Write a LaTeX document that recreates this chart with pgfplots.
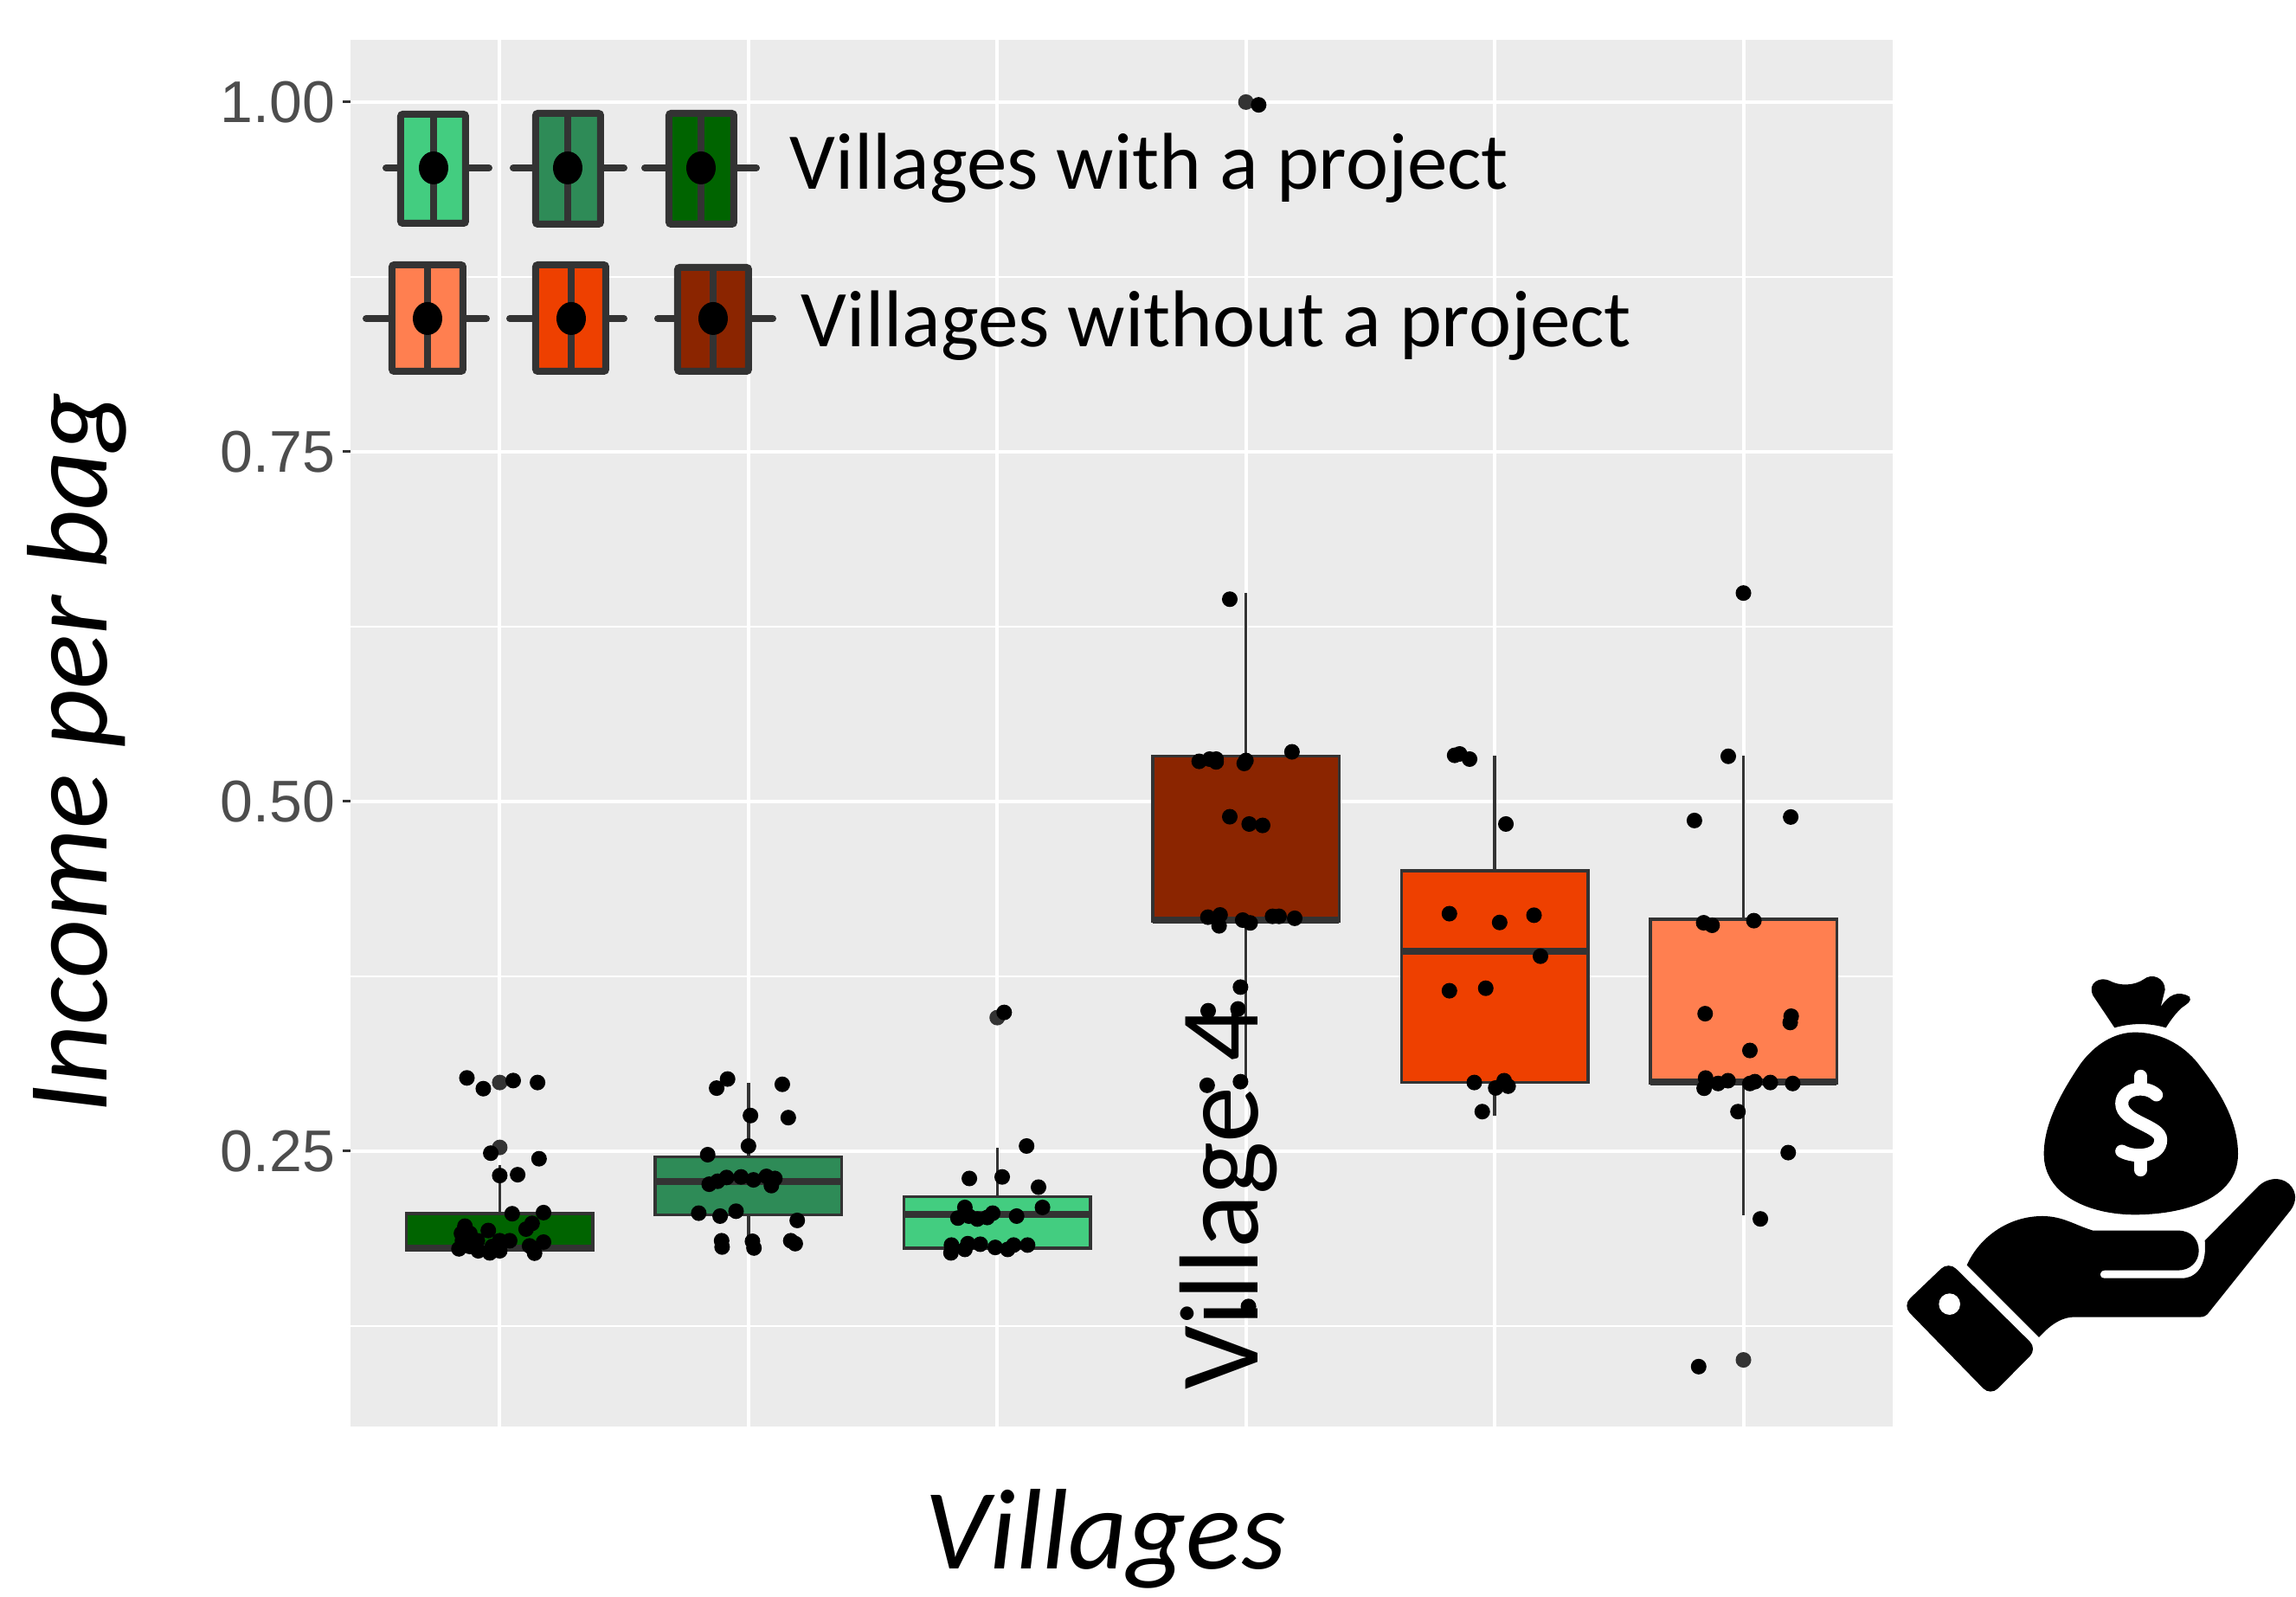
\documentclass[border=0pt]{standalone}
\usepackage{pgfplots}
\usepackage{pgfplotstable}
\usepackage{fontspec}
\pgfplotsset{compat=1.18}
\setmainfont{Carlito}
\newfontfamily\arialf{Liberation Sans}
\definecolor{panel}{HTML}{EBEBEB}
\definecolor{dk}{HTML}{333333}
\definecolor{tk}{HTML}{4D4D4D}
\definecolor{gA}{HTML}{006400}
\definecolor{gB}{HTML}{2E8B57}
\definecolor{gC}{HTML}{43CD80}
\definecolor{rA}{HTML}{8B2500}
\definecolor{rB}{HTML}{EE4000}
\definecolor{rC}{HTML}{FF7F50}
% jitter (category units) and income per bag
\pgfplotstableread{
j v
-0.132 0.3024
-0.066 0.2947
0.054 0.3005
0.152 0.2991
-0.036 0.2486
0.158 0.2446
0 0.2326
0.072 0.2332
0.05 0.2053
0.176 0.2061
0.13 0.1984
0.106 0.1943
-0.14 0.1964
-0.046 0.1933
-0.154 0.1912
-0.12 0.1912
-0.15 0.186
-0.09 0.186
0 0.186
0.04 0.186
0.12 0.1823
0.176 0.185
-0.164 0.1802
-0.086 0.1788
-0.04 0.1773
0 0.1788
0.14 0.1771
-0.12 0.1819
-0.03 0.1819
}\villageA
\pgfplotstableread{
j v
-0.084 0.3016
-0.128 0.2951
0.136 0.2978
0.008 0.2755
0.16 0.274
0 0.2537
-0.164 0.2475
-0.158 0.2264
-0.124 0.2285
-0.088 0.2312
-0.03 0.2316
0.02 0.2295
0.072 0.232
0.106 0.2305
0.092 0.2254
-0.2 0.2057
-0.114 0.2036
-0.05 0.2071
0.196 0.2005
-0.108 0.186
-0.106 0.1815
0.016 0.1856
0.022 0.1808
0.17 0.186
0.188 0.1839
}\villageB
\pgfplotstableread{
j v
0.028 0.3492
0.118 0.2537
-0.112 0.2305
0.02 0.2316
0.166 0.2243
-0.13 0.2098
0.182 0.2098
-0.018 0.2057
0.078 0.2036
-0.158 0.2022
-0.114 0.2036
-0.08 0.2015
-0.04 0.2026
-0.184 0.1829
-0.186 0.1773
-0.13 0.1798
-0.118 0.1839
-0.068 0.1835
-0.008 0.1812
0.042 0.1798
0.066 0.1829
0.122 0.1829
}\villageC
\pgfplotstableread{
j v
0.051 0.998
-0.065 0.6446
-0.188 0.5287
-0.146 0.5303
-0.12 0.5303
-0.12 0.5283
0 0.5293
-0.007 0.5272
0.185 0.5355
-0.065 0.4891
0.013 0.4839
0.067 0.4829
-0.153 0.4173
-0.104 0.4189
-0.108 0.4111
-0.013 0.4152
0.017 0.4132
0.107 0.4179
0.133 0.4179
0.196 0.4165
-0.022 0.3673
-0.152 0.3504
-0.032 0.3517
-0.022 0.2997
-0.156 0.2971
0.01 0.139
}\villageD
\pgfplotstableread{
j v
-0.161 0.533
-0.141 0.534
-0.101 0.5303
0.045 0.4839
-0.182 0.4198
0.02 0.4135
0.158 0.4187
0.184 0.3894
-0.182 0.3647
-0.036 0.3665
-0.082 0.2991
0.004 0.2952
0.038 0.3004
0.054 0.2965
-0.05 0.2783
}\villageE
\pgfplotstableread{
j v
0.0 0.649
-0.061 0.5323
-0.197 0.4864
0.19 0.4889
-0.16 0.4133
-0.126 0.4115
0.042 0.4148
-0.154 0.3483
0.192 0.3465
0.188 0.342
0.026 0.322
-0.152 0.3023
-0.158 0.295
-0.102 0.2984
-0.062 0.3004
0.026 0.2984
0.046 0.2997
0.108 0.2991
0.198 0.2984
-0.022 0.2783
0.18 0.249
0.068 0.2016
-0.18 0.096
}\villageF
\pgfplotstableread{
x v
0 0.2991
0 0.2527
2 0.3455
3 1.0
5 0.1008
}\outliers
\newcommand\glyph[9]{% wx1 wx2 wy bx1 bx2 by1 by2 cx colour
  \draw[dk,line width=1.6pt,line cap=round] (#1,#3)--(#2,#3);
  \draw[dk,fill=#9,line width=1.6pt,rounded corners=0.5pt] (#4+4,#6+4) rectangle (#5-4,#7-4);
  \draw[dk,line width=1.6pt] (#8,#6+4)--(#8,#7-4);
  \fill[black] (#8,#3) ellipse [x radius=17,y radius=19];
}
% position, lower whisker, lower quartile, median, upper quartile, upper whisker, colour
\newcommand\villagebox[7]{%
  \addplot[dk,line width=0.7pt,mark=none,forget plot] coordinates {(#1,#2) (#1,#6)};
  \addplot[dk,fill=#7,line width=0.7pt,mark=none,forget plot] coordinates {(#1-0.375,#3) (#1+0.375,#3) (#1+0.375,#5) (#1-0.375,#5)} --cycle;
  \addplot[dk,line width=1.6pt,mark=none,forget plot] coordinates {(#1-0.375,#4) (#1+0.375,#4)};
}
\pgfplotsset{
  pts/.style={only marks,mark=*,mark size=1.6pt,black,mark options={solid,fill=black,draw=black}},
}
\begin{document}
\begin{tikzpicture}
\path[use as bounding box] (0,0) rectangle (530.6pt,369pt);
\begin{axis}[
  at={(81pt,39.46pt)},anchor=south west,
  scale only axis,width=356.4pt,height=320.34pt,
  xmin=-0.6,xmax=5.6,ymin=0.0534,ymax=1.0445,
  axis line style={draw=none},
  axis background/.style={fill=panel},
  xtick={0,1,2,3,4,5},xticklabels={},
  ytick={0.25,0.5,0.75,1},
  minor ytick={0.125,0.375,0.625,0.875},
  xtick pos=lower,ytick pos=left,tick align=outside,
  major tick length=1.8pt,minor tick length=0pt,
  x tick style={draw=none},
  y tick style={dk,line width=0.6pt},
  grid=both,
  major grid style={white,line width=0.65pt},
  x grid style={white,line width=0.8pt},
  minor grid style={white,line width=0.33pt},
  yticklabel style={font=\arialf\fontsize{13.6}{15}\selectfont,text=tk,inner sep=1.6pt,
    /pgf/number format/.cd,fixed,zerofill,precision=2,assume math mode=true},
  xlabel={Villages},ylabel={Income per bag},
  xlabel style={at={(axis description cs:0.4895,-0.1030)},anchor=base,font=\itshape\fontsize{26.5}{30}\selectfont},
  ylabel style={at={(axis description cs:-0.158,0.4856)},anchor=base,font=\itshape\fontsize{26.5}{30}\selectfont},
]
\villagebox{0}{0.1795}{0.1795}{0.1808}{0.2053}{0.24}{gA}
\villagebox{1}{0.182}{0.2046}{0.2285}{0.246}{0.2989}{gB}
\villagebox{2}{0.1808}{0.1808}{0.205}{0.2175}{0.2523}{gC}
\villagebox{3}{0.298}{0.4145}{0.4155}{0.5324}{0.649}{rA}
\villagebox{4}{0.2755}{0.2991}{0.3927}{0.4505}{0.5328}{rB}
\villagebox{5}{0.2042}{0.2985}{0.2995}{0.4159}{0.5325}{rC}
\addplot[only marks,mark=*,mark size=1.6pt,dk,mark options={solid,fill=dk,draw=dk}] table[x=x,y=v] {\outliers};
\addplot[pts] table[x expr=\thisrow{j}+0,y=v] {\villageA};
\addplot[pts] table[x expr=\thisrow{j}+1,y=v] {\villageB};
\addplot[pts] table[x expr=\thisrow{j}+2,y=v] {\villageC};
\addplot[pts] table[x expr=\thisrow{j}+3,y=v] {\villageD};
\addplot[pts] table[x expr=\thisrow{j}+4,y=v] {\villageE};
\addplot[pts] table[x expr=\thisrow{j}+5,y=v] {\villageF};
\end{axis}
\begin{scope}[x=0.2pt,y=-0.2pt,shift={(0,369pt)}]
  \glyph{446}{565}{194}{459}{542}{128}{262}{501}{gC}
  \glyph{593}{721}{194}{615}{698}{127}{263}{656}{gB}
  \glyph{745}{874}{194}{769}{852}{127}{263}{810}{gA}
  \glyph{423}{562}{368}{449}{539}{302}{433}{494}{rC}
  \glyph{589}{721}{368}{615}{704}{302}{433}{660}{rB}
  \glyph{760}{893}{368}{779}{869}{305}{433}{824}{rA}
  \node[anchor=base west,inner sep=0pt,font=\fontsize{18.6}{20}\selectfont] at (912,219) {Villages with a project};
  \node[anchor=base west,inner sep=0pt,font=\fontsize{18.6}{20}\selectfont] at (925,401) {Villages without a project};
  \node[anchor=base west,inner sep=0pt,rotate=90,font=\fontsize{26}{28}\selectfont] at (1454,1607) {Village 4};
\end{scope}
\begin{scope}[x=0.06667pt,y=-0.06667pt,shift={(436pt,149pt)}]
  % money bag
  \fill (790,262) -- (715,150) .. controls (695,105) and (740,85) .. (770,98) .. controls (810,120) and (860,115) .. (890,95) .. controls (920,70) and (965,90) .. (965,130) -- (950,190) .. controls (975,150) and (1010,130) .. (1050,155) .. controls (1060,170) and (1040,180) .. (1020,195) .. controls (1000,215) and (985,235) .. (968,262) .. controls (910,245) and (850,245) .. (790,262) -- cycle;
  \fill (860,278) .. controls (960,278) and (1040,330) .. (1090,400) .. controls (1160,490) and (1218,590) .. (1218,700) .. controls (1218,860) and (1020,910) .. (860,910) .. controls (700,910) and (545,840) .. (545,700) .. controls (545,590) and (610,480) .. (670,390) .. controls (720,320) and (790,278) .. (860,278) -- cycle;
  \draw[white,line width=3pt,line cap=round] (935,495) .. controls (900,460) and (815,470) .. (815,525) .. controls (815,590) and (950,600) .. (950,650) .. controls (950,710) and (860,715) .. (815,690);
  \draw[white,line width=3pt,line cap=round] (880,430)--(880,470) (880,715)--(880,755);
  % hand
  \fill (278,1085) .. controls (320,990) and (420,915) .. (540,915) .. controls (610,915) and (650,945) .. (715,965) -- (1010,965) .. controls (1060,965) and (1082,1000) .. (1082,1035) .. controls (1082,1075) and (1050,1103) .. (1010,1103) -- (755,1103) .. controls (735,1105) and (735,1130) .. (755,1130) -- (1030,1130) .. controls (1080,1125) and (1110,1080) .. (1103,1000) -- (1290,810) .. controls (1330,775) and (1380,780) .. (1405,815) .. controls (1425,845) and (1415,875) .. (1400,895) -- (1120,1245) .. controls (1110,1260) and (1100,1265) .. (1085,1265) -- (650,1265) .. controls (600,1265) and (560,1300) .. (528,1335) -- cycle;
  \fill[rounded corners=2.4pt] (215,1072) -- (522,1375) -- (360,1538) -- (55,1225) -- cycle;
  \fill[white] (218,1220) circle [radius=37];
\end{scope}
\end{tikzpicture}
\end{document}
